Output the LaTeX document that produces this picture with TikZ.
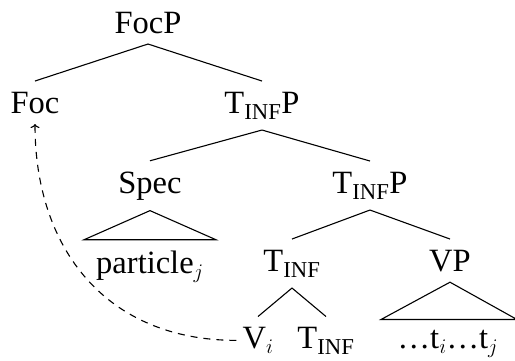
\documentclass[tikz,border=0pt]{standalone}
\usepackage{fontspec}
\setmainfont{Liberation Serif}
\usetikzlibrary{arrows.meta}
\tikzset{
  lbl/.style={anchor=base, inner xsep=6pt, inner ysep=10.5pt,
              font=\fontsize{32.5}{39}\selectfont},
  branch/.style={line width=1.1pt},
  movement/.style={line width=1.1pt, dash pattern=on 7pt off 6pt,
                   -{To[length=4pt,width=9pt]}}
}
\begin{document}
\begin{tikzpicture}[x=1pt,y=-1pt]
\useasboundingbox (0,0) rectangle (515,360);
% level 0
\node[lbl] (focp) at (148,33) {FocP};
% level 1
\node[lbl] (foc) at (35,113) {Foc};
\node[lbl] (tp1) at (262,113) {T\textsubscript{INF}P};
% level 2
\node[lbl] (spec) at (150,193) {Spec};
\node[lbl] (tp2) at (370,193) {T\textsubscript{INF}P};
% level 3
\node[lbl] (part) at (150,273) {particle$_j$};
\node[lbl] (tinf) at (292,271) {T\textsubscript{INF}};
\node[lbl] (vp) at (450,271) {VP};
% level 4
\node[lbl] (v) at (258,348.5) {V$_i$};
\node[lbl] (tinf2) at (326,348.5) {T\textsubscript{INF}};
\node[lbl] (traces) at (448,348.5) {\dots t$_i$\dots t$_j$};
% branches
\draw[branch] (focp.south) -- (foc.north);
\draw[branch] (focp.south) -- (tp1.north);
\draw[branch] (tp1.south) -- (spec.north);
\draw[branch] (tp1.south) -- (tp2.north);
\draw[branch] (tp2.south) -- (tinf.north);
\draw[branch] (tp2.south) -- (vp.north);
\draw[branch] (tinf.south) -- (v.north);
\draw[branch] (tinf.south) -- (tinf2.north);
% roofs
\draw[branch] (spec.south) -- ([xshift=-66pt]part.north) -- ([xshift=66pt]part.north) -- cycle;
\draw[branch] (vp.south) -- ([xshift=-67pt]traces.north) -- ([xshift=69pt]traces.north) -- cycle;
% head movement
\draw[movement] (v.west) .. controls +(-130,0) and +(0,125) .. (foc.south);
\end{tikzpicture}
\end{document}
